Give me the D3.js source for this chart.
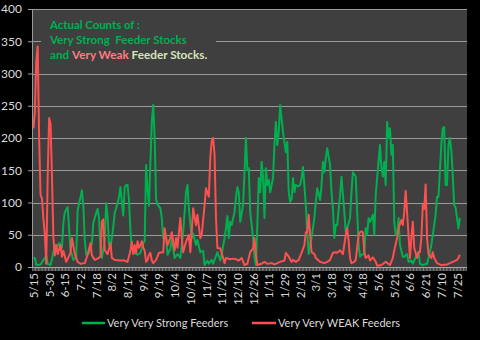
<!DOCTYPE html>
<html><head><meta charset="utf-8">
<script src="https://cdn.jsdelivr.net/npm/d3@7"></script>
<style>
html,body{margin:0;padding:0;background:#000;}
svg{display:block;}
text{font-family:Lato,"Open Sans",sans-serif;}
</style></head>
<body>
<svg id="c" width="480" height="340"></svg>
<script>
// ---- data ----
const tickLabels = ["5/15","5-30","6-15","7-2","7/18","8/2","8/17","9/4","9/19","10/4","10/19","11/7","11/23","12/10","12/26","1/11","1/29","2/13","3/1","3/18","4/3","4/18","5/6","5/21","6/6","6/21","7/10","7/25"];
const labelStep = 11; // trading days between labels
const yTicks = [0,50,100,150,200,250,300,350,400];
const seriesNames = ["Very Very Strong Feeders","Very Very WEAK Feeders"];
// [day index, count]
const strongPts = [[0,14],[1,14],[2,3],[5,4],[7,11],[9,17],[10,5],[12,3],[13,12],[15,34],[16,28],[18,37],[20,30],[21,68],[22,85],[24,93],[25,60],[26,26],[28,11],[30,15],[31,88],[33,108],[34,119],[35,95],[36,42],[37,19],[39,22],[41,37],[42,68],[44,84],[45,90],[46,75],[47,30],[48,14],[50,42],[51,99],[52,78],[53,34],[54,30],[56,62],[57,84],[59,99],[60,108],[61,124],[62,101],[63,80],[64,124],[65,127],[66,127],[67,104],[68,57],[69,29],[71,22],[73,19],[75,22],[76,29],[77,37],[78,40],[79,158],[80,120],[81,95],[82,160],[83,225],[84,251],[85,200],[86,105],[87,97],[89,91],[90,76],[91,45],[93,48],[94,19],[96,28],[97,45],[99,14],[101,20],[103,14],[105,54],[107,116],[108,127],[109,90],[111,45],[112,52],[114,34],[115,42],[117,23],[119,25],[120,3],[122,10],[123,5],[125,11],[126,5],[129,23],[131,10],[132,20],[134,45],[135,60],[136,79],[137,45],[138,70],[139,65],[141,85],[142,107],[143,124],[144,116],[145,70],[147,96],[148,147],[149,200],[150,150],[151,153],[152,85],[154,45],[155,14],[156,3],[157,65],[158,138],[159,116],[160,163],[161,140],[162,76],[163,153],[164,127],[165,135],[166,116],[168,138],[169,189],[170,225],[171,189],[172,209],[173,251],[175,209],[176,194],[177,178],[178,194],[179,116],[180,101],[181,105],[182,138],[183,116],[184,127],[186,125],[187,127],[188,138],[189,155],[191,96],[192,54],[193,20],[194,34],[195,45],[197,76],[198,101],[199,122],[201,104],[202,127],[203,163],[204,147],[205,169],[206,184],[208,158],[209,116],[210,91],[211,45],[212,65],[213,65],[215,112],[216,140],[217,112],[218,85],[219,54],[220,60],[222,76],[223,116],[224,147],[226,140],[227,85],[228,34],[229,16],[230,19],[232,20],[233,60],[234,50],[235,76],[236,70],[238,81],[239,50],[240,112],[241,138],[243,189],[244,153],[245,140],[246,163],[247,127],[248,225],[249,200],[250,215],[251,174],[252,189],[253,70],[254,50],[255,50],[256,76],[257,34],[259,16],[260,16],[262,20],[263,8],[265,10],[266,5],[268,15],[270,23],[271,5],[273,3],[276,5],[278,23],[279,34],[281,65],[282,81],[283,109],[284,109],[286,189],[287,215],[288,217],[289,127],[290,127],[291,189],[292,200],[293,180],[294,143],[295,96],[296,92],[297,76],[298,60],[299,76]];
const weakPts = [[0,215],[1,240],[2,320],[3,342],[4,200],[5,112],[6,106],[7,75],[8,50],[9,5],[10,140],[11,231],[12,222],[13,140],[14,45],[15,18],[16,34],[17,20],[19,34],[20,16],[21,25],[23,8],[26,22],[27,45],[29,20],[31,8],[33,5],[36,6],[38,19],[40,37],[41,18],[43,11],[45,13],[47,16],[48,70],[49,74],[50,26],[52,20],[54,37],[55,14],[57,11],[61,10],[64,10],[66,8],[68,25],[69,39],[70,20],[71,34],[72,22],[73,40],[74,30],[75,34],[76,40],[77,30],[78,25],[79,8],[80,11],[81,19],[82,22],[83,10],[84,6],[86,11],[88,22],[91,23],[92,60],[93,45],[94,34],[96,45],[97,54],[99,26],[100,45],[101,30],[103,76],[104,45],[105,23],[107,39],[109,50],[110,23],[111,54],[112,91],[114,65],[115,81],[117,45],[118,50],[120,96],[121,122],[122,115],[123,109],[124,169],[125,195],[126,200],[127,174],[128,76],[129,29],[131,29],[132,22],[134,6],[135,14],[138,12],[140,13],[142,12],[144,10],[146,14],[148,3],[150,5],[152,23],[154,29],[155,45],[156,20],[157,3],[160,5],[162,8],[164,5],[167,6],[169,4],[171,6],[173,8],[176,10],[177,22],[179,16],[181,8],[182,11],[184,8],[186,11],[188,22],[190,34],[191,54],[192,54],[193,81],[194,50],[195,23],[197,20],[198,14],[201,8],[204,6],[206,8],[208,11],[210,22],[212,23],[213,22],[215,26],[217,20],[219,50],[220,60],[221,40],[222,14],[223,6],[225,8],[226,11],[228,50],[229,54],[230,55],[231,54],[232,23],[233,14],[235,18],[236,10],[238,15],[240,8],[241,2],[244,3],[247,8],[250,3],[252,14],[253,26],[255,45],[256,60],[258,73],[259,65],[260,85],[261,118],[263,50],[264,14],[265,45],[266,70],[267,30],[269,14],[270,23],[271,23],[272,45],[273,96],[274,90],[275,128],[276,45],[277,20],[279,14],[280,23],[281,14],[283,6],[286,3],[290,4],[292,6],[294,8],[297,11],[298,14],[299,19]];

// ---- layout ----
const W = 480, H = 340;
const plot = {left:32, right:467, top:9, bottom:267};
const green = "#00b050", red = "#ff5050", axisText = "#d9d9d9", gridColor = "#9a9a9a";

const svg = d3.select("#c");
svg.append("rect").attr("width",W).attr("height",H).attr("fill","#000");

const x = d3.scaleLinear().domain([-1, 304]).range([plot.left, plot.right]);
const y = d3.scaleLinear().domain([0, 400]).range([plot.bottom, plot.top]);

svg.append("rect").attr("x",plot.left).attr("y",plot.top)
  .attr("width",plot.right-plot.left).attr("height",plot.bottom-plot.top)
  .attr("fill","#3f3f3f");

// gridlines + y ticks
svg.append("g").selectAll("line").data(yTicks.filter(d=>d>0)).join("line")
  .attr("x1",plot.left).attr("x2",plot.right)
  .attr("y1",d=>Math.round(y(d))+0.5).attr("y2",d=>Math.round(y(d))+0.5)
  .attr("stroke",gridColor).attr("stroke-width",1);

const yAxis = d3.axisLeft(y).tickValues(yTicks).tickSize(4).tickPadding(6);
const gy = svg.append("g").attr("transform",`translate(${plot.left},0)`).call(yAxis);
gy.select(".domain").attr("stroke",gridColor);
gy.selectAll(".tick line").attr("stroke",gridColor);
gy.selectAll(".tick text").attr("fill",axisText).attr("font-size",12).attr("font-family","Lato, sans-serif");

// x axis: category ticks between every day
const nDays = 304;
const dayTicks = d3.range(0, nDays+1).map(d=>d-0.5);
const gx = svg.append("g").attr("transform",`translate(0,${plot.bottom})`);
gx.selectAll("line.t").data(dayTicks).join("line").attr("class","t")
  .attr("x1",d=>x(d)).attr("x2",d=>x(d)).attr("y1",0).attr("y2",4)
  .attr("stroke","#a6a6a6").attr("stroke-width",0.8);
gx.append("line").attr("x1",plot.left).attr("x2",plot.right).attr("y1",0.5).attr("y2",0.5)
  .attr("stroke","#a6a6a6");
gx.selectAll("text").data(tickLabels).join("text")
  .attr("transform",(d,i)=>`translate(${x(i*labelStep)+0.5},6) rotate(-90)`)
  .attr("text-anchor","end").attr("dy","0.35em")
  .attr("fill",axisText).attr("font-size",11.5)
  .text(d=>d);

// title box
const tb = svg.append("g");
tb.append("rect").attr("x",41).attr("y",13).attr("width",175).attr("height",55).attr("fill","#3f3f3f");
const titleLines = [
  {y:28.5, w:90, parts:[["Actual Counts of :",green]]},
  {y:43.5, w:137, parts:[["Very Strong\u00a0\u00a0Feeder Stocks",green]]},
  {y:58.5, w:157, parts:[["and ",green],["Very Weak",  "#ff7c80"],[" Feeder Stocks.","#d7e4bd"]]}
];
titleLines.forEach(l=>{
  const t = tb.append("text").attr("x",0).attr("y",0)
    .attr("font-size",12).attr("font-weight","bold");
  l.parts.forEach(p=>t.append("tspan").attr("fill",p[1]).text(p[0]));
  const len = t.node().getComputedTextLength();
  const s = l.w/len;
  t.attr("transform",`translate(50,${l.y}) scale(${s},1)`);
});

// lines
const line = d3.line().x(d=>x(d[0])).y(d=>y(d[1]));
svg.append("path").datum(strongPts).attr("d",line)
  .attr("fill","none").attr("stroke",green).attr("stroke-width",2).attr("stroke-linejoin","round");
svg.append("path").datum(weakPts).attr("d",line)
  .attr("fill","none").attr("stroke",red).attr("stroke-width",2).attr("stroke-linejoin","round");

// legend
const legend = [
  {name:seriesNames[0], color:green, x1:82, x2:105, tx:107},
  {name:seriesNames[1], color:red, x1:252, x2:276, tx:278}
];
const lg = svg.append("g");
legend.forEach(l=>{
  lg.append("line").attr("x1",l.x1).attr("x2",l.x2).attr("y1",323).attr("y2",323)
    .attr("stroke",l.color).attr("stroke-width",2.5);
  lg.append("text").attr("x",l.tx).attr("y",323).attr("dy","0.35em")
    .attr("fill",axisText).attr("font-size",11).text(l.name);
});
</script>
</body></html>
